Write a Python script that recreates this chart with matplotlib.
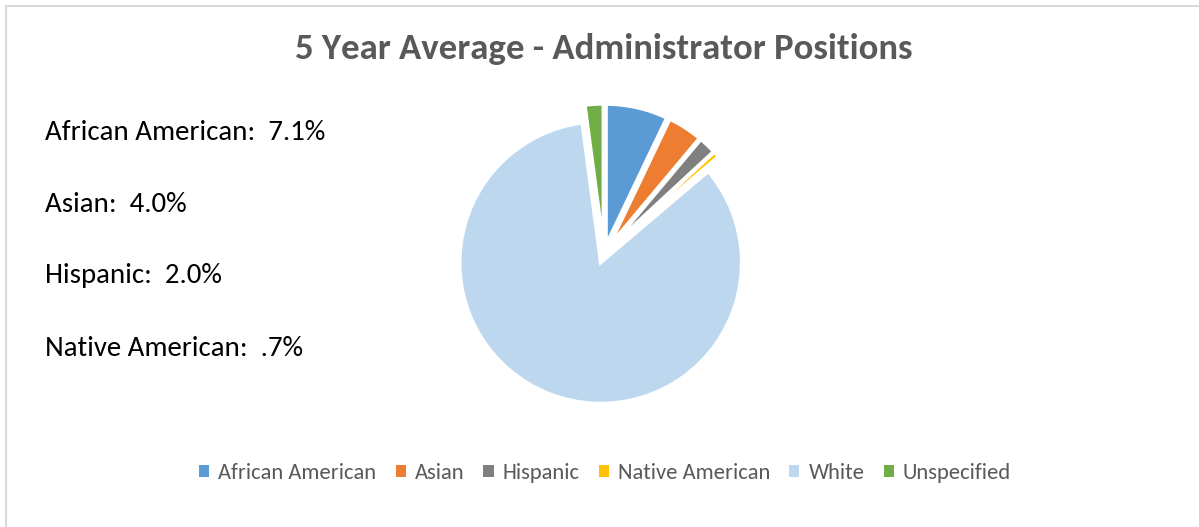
import matplotlib
matplotlib.use("Agg")
import matplotlib.pyplot as plt
from matplotlib.patches import Patch
from matplotlib.lines import Line2D

plt.rcParams['font.family'] = ['Carlito', 'Lato', 'DejaVu Sans']

categories = ["African American", "Asian", "Hispanic", "Native American", "White", "Unspecified"]
values = [7.1, 4.0, 2.0, 0.7, 84.1, 2.1]
colors = ["#5B9BD5", "#ED7D31", "#7F7F7F", "#FFC000", "#BDD7EE", "#70AD47"]
side_labels = ["African American:  7.1%", "Asian:  4.0%", "Hispanic:  2.0%", "Native American:  .7%"]
title = "5 Year Average - Administrator Positions"

W, H = 1199, 527
fig = plt.figure(figsize=(W / 100, H / 100), dpi=100)
fig.patch.set_facecolor("white")

# pie axes: radius 1 unit = 141 px
R = 141.0
L = 1.3
S = 2 * L * R
cx, cy = 604, 254
ax = fig.add_axes([(cx - S / 2) / W, (H - cy - S / 2) / H, S / W, S / H])
ax.pie(values, colors=colors, startangle=90, counterclock=False,
       explode=[0.065] * len(values),
       wedgeprops=dict(edgecolor="white", linewidth=2.6))
ax.set_xlim(-L, L)
ax.set_ylim(-L, L)
ax.set_aspect("equal")
ax.axis("off")

# border (left and top)
fig.add_artist(Line2D([6 / W, 6 / W], [0, 1 - 6 / H], transform=fig.transFigure,
                      color="#D9D9D9", linewidth=1.5))
fig.add_artist(Line2D([6 / W, 1], [1 - 6 / H, 1 - 6 / H], transform=fig.transFigure,
                      color="#D9D9D9", linewidth=1.5))

fig.text(604 / W, 1 - 49 / H, title, ha="center", va="center",
         fontsize=26.5, fontweight="bold", color="#595959")

ys = [132, 204, 275, 348]
for lab, y in zip(side_labels, ys):
    fig.text(45 / W, 1 - y / H, lab, ha="left", va="center", fontsize=20.8, color="black")

handles = [Patch(facecolor=c, edgecolor="none") for c in colors]
leg = fig.legend(handles, categories, loc="center", bbox_to_anchor=(605 / W, 1 - 473 / H),
                 ncol=6, frameon=False, fontsize=16.2, handlelength=0.45, handleheight=0.5,
                 handletextpad=0.4, columnspacing=0.85, labelcolor="#595959")

fig.savefig("out.png", dpi=100, facecolor="white")
